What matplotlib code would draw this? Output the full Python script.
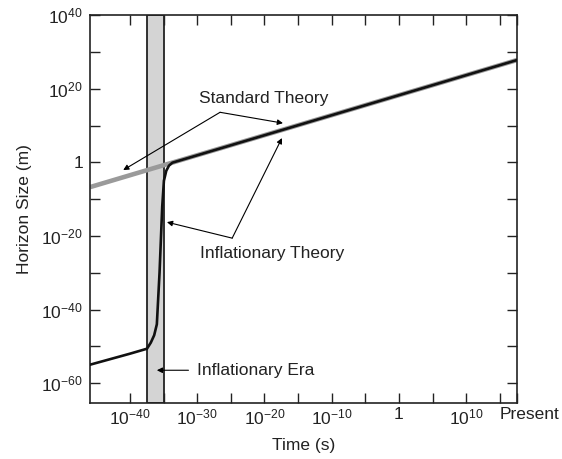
import numpy as np
import matplotlib
matplotlib.use("Agg")
import matplotlib.pyplot as plt
import matplotlib.transforms as mtransforms
from matplotlib.ticker import FixedLocator, NullFormatter

plt.rcParams['font.family'] = ['Liberation Sans', 'DejaVu Sans']
plt.rcParams['mathtext.default'] = 'regular'

# axis range (log10 of seconds / metres)
t_range = [-45.95, 17.55]
size_range = [-65.4, 40.0]

# standard theory: straight power law across the whole range
std_log_t = [-45.95, 17.55]
std_log_size = [-6.74, 27.8]

# inflationary theory: slow growth, steep jump during the era, then standard
inf_log_t = [-45.95, -40.0, -37.47, -36.9, -36.4, -36.0, -35.6, -35.2,
             -34.95, -34.6, -34.2, -33.7, 17.55]
inf_log_size = [-55.0, -52.0, -50.65, -49.0, -47.0, -44.0, -30.0, -12.0,
                -5.0, -2.3, -0.9, -0.1, 27.8]

# inflationary era band
era_log_t = [-37.5, -35.0]

x_major = [-40, -30, -20, -10, 0, 10]
x_labels = ['$10^{-40}$', '$10^{-30}$', '$10^{-20}$', '$10^{-10}$', '1', '$10^{10}$']
x_minor = [-35, -25, -15, -5, 5, 15]
y_major = [40, 20, 0, -20, -40, -60]
y_labels = ['$10^{40}$', '$10^{20}$', '1', '$10^{-20}$', '$10^{-40}$', '$10^{-60}$']
y_minor = [30, 10, -10, -30, -50]

ink = '#222222'
fs = 12.5

fig = plt.figure(figsize=(5.62, 4.59), dpi=100)
ax = fig.add_axes([0.160, 0.122, 0.760, 0.845])
ax.set_xscale('log')
ax.set_yscale('log')
ax.set_xlim(10.0 ** t_range[0], 10.0 ** t_range[1])
ax.set_ylim(10.0 ** size_range[0], 10.0 ** size_range[1])

ax.axvspan(10.0 ** era_log_t[0], 10.0 ** era_log_t[1], facecolor='#d4d4d4',
           edgecolor=ink, linewidth=1.3, zorder=1)

ax.plot(10.0 ** np.array(std_log_t), 10.0 ** np.array(std_log_size),
        color='#9a9a9a', linewidth=3.3, solid_capstyle='butt', zorder=2)
ax.plot(10.0 ** np.array(inf_log_t), 10.0 ** np.array(inf_log_size),
        color='#111111', linewidth=1.9, zorder=3)

xt = x_major + [t_range[1]]
xl = x_labels + ['Present']
ax.xaxis.set_major_locator(FixedLocator([10.0 ** v for v in xt]))
ax.set_xticklabels(xl)
ax.xaxis.set_minor_locator(FixedLocator([10.0 ** v for v in x_minor]))
ax.xaxis.set_minor_formatter(NullFormatter())
ax.yaxis.set_major_locator(FixedLocator([10.0 ** v for v in y_major]))
ax.set_yticklabels(y_labels)
ax.yaxis.set_minor_locator(FixedLocator([10.0 ** v for v in y_minor]))
ax.yaxis.set_minor_formatter(NullFormatter())

for which in ('major', 'minor'):
    ax.tick_params(axis='both', which=which, direction='in', length=7,
                   width=1.0, color=ink, top=True, right=True)
ax.tick_params(axis='x', which='major', labelsize=fs, labelcolor=ink, pad=3)
ax.tick_params(axis='y', which='major', labelsize=fs, labelcolor=ink, pad=5)
for sp in ax.spines.values():
    sp.set_color(ink)
    sp.set_linewidth(1.2)

# nudge the "Present" label a little to the right
present = ax.get_xticklabels()[-1]
present.set_transform(present.get_transform() +
                      mtransforms.ScaledTranslation(9 / 72, 0, fig.dpi_scale_trans))

ax.set_xlabel('Time (s)', fontsize=fs, color=ink, labelpad=8)
ax.set_ylabel('Horizon Size (m)', fontsize=fs, color=ink, labelpad=7)

arrow = dict(arrowstyle='-|>', color='black', lw=0.8, mutation_scale=8,
             shrinkA=0, shrinkB=0)

ax.text(10.0 ** -20.1, 10.0 ** 17.45, 'Standard Theory', fontsize=fs,
        color=ink, ha='center', va='center')
ax.annotate('', xy=(10.0 ** -41.0, 10.0 ** -2.1), xytext=(10.0 ** -26.6, 10.0 ** 13.6),
            arrowprops=arrow)
ax.annotate('', xy=(10.0 ** -17.25, 10.0 ** 10.65), xytext=(10.0 ** -26.6, 10.0 ** 13.6),
            arrowprops=arrow)

ax.text(10.0 ** -18.9, 10.0 ** -24.7, 'Inflationary Theory', fontsize=fs,
        color=ink, ha='center', va='center')
ax.annotate('', xy=(10.0 ** -34.5, 10.0 ** -16.25), xytext=(10.0 ** -24.8, 10.0 ** -20.6),
            arrowprops=arrow)
ax.annotate('', xy=(10.0 ** -17.4, 10.0 ** 6.6), xytext=(10.0 ** -24.8, 10.0 ** -20.6),
            arrowprops=arrow)

ax.text(10.0 ** -30.0, 10.0 ** -56.5, 'Inflationary Era', fontsize=fs,
        color=ink, ha='left', va='center')
ax.annotate('', xy=(10.0 ** -36.0, 10.0 ** -56.5), xytext=(10.0 ** -31.3, 10.0 ** -56.5),
            arrowprops=arrow)

fig.savefig('out.png', dpi=100)
